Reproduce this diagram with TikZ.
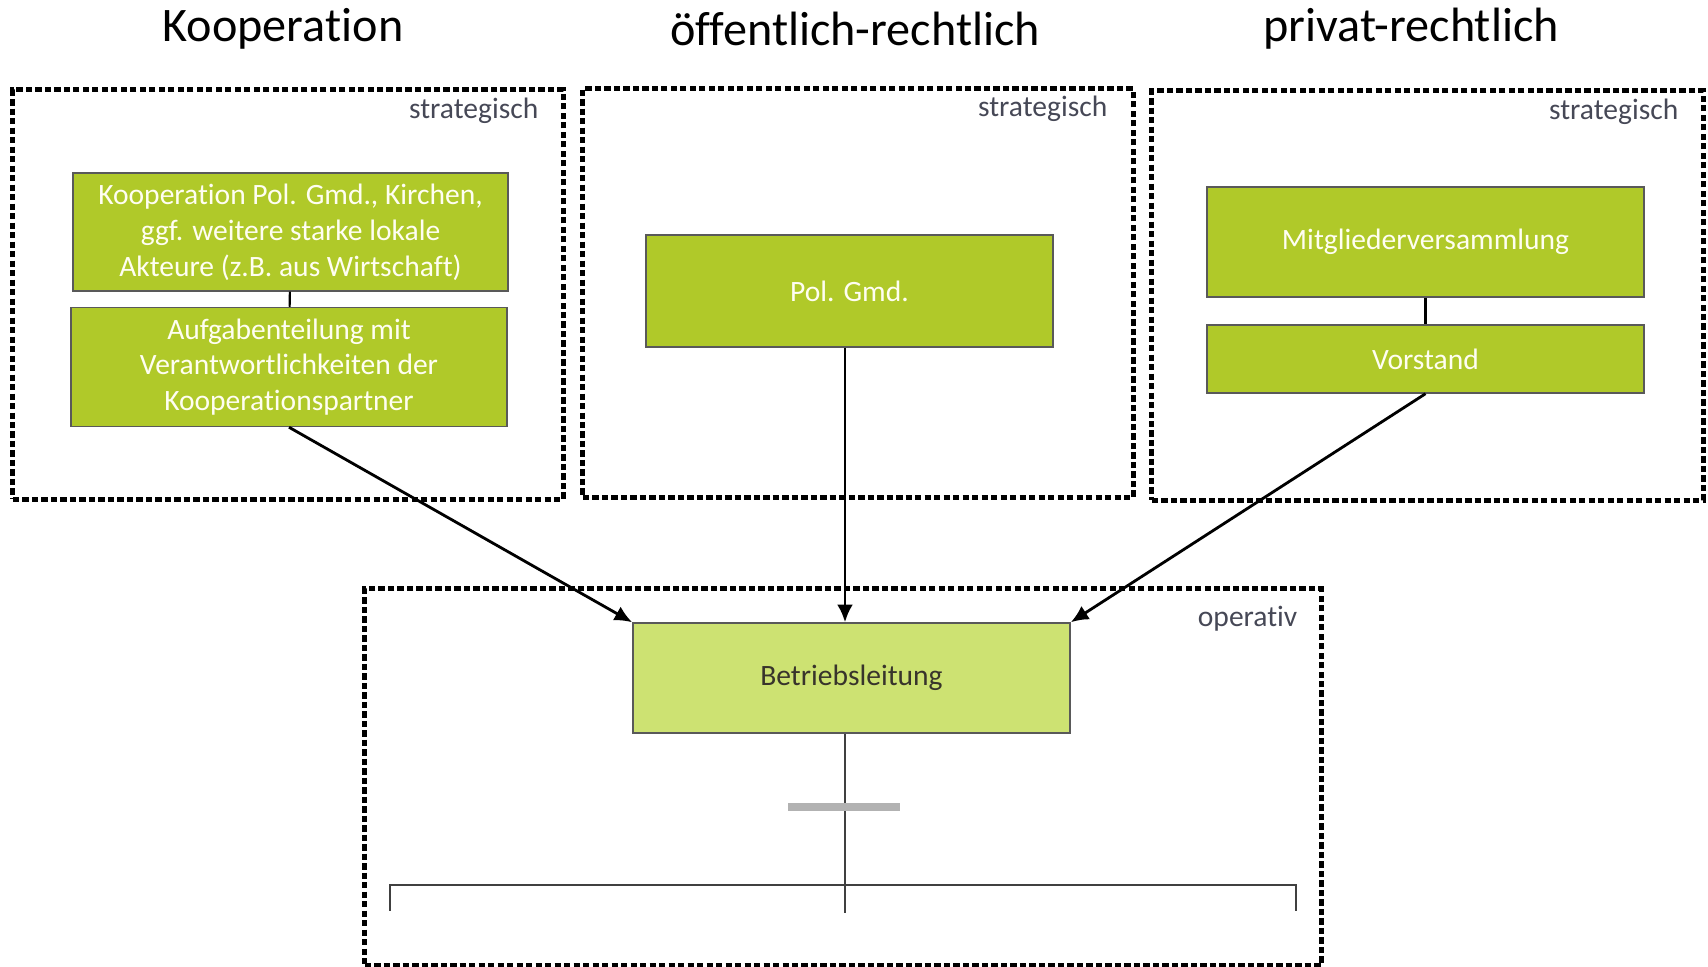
\documentclass[tikz,border=0pt]{standalone}
\usepackage{fontspec}
\setmainfont{Carlito}[Ligatures=NoCommon]
\usetikzlibrary{arrows.meta}
\definecolor{leaf}{RGB}{176,201,41}
\definecolor{lightleaf}{RGB}{205,226,114}
\definecolor{slate}{RGB}{70,72,86}
\begin{document}
\begin{tikzpicture}[x=0.01cm, y=-0.01cm,
  frame/.style={draw, line width=1.4pt, dash pattern=on 1.8pt off 0.9pt, inner sep=0pt},
  org/.style={draw=black!65, fill=leaf, text=white!95!yellow, inner sep=0pt, align=center,
    font=\fontsize{8.4}{10.2}\selectfont},
  lvl/.style={text=slate, anchor=east, inner sep=0pt, font=\fontsize{8.4}{10}\selectfont},
  head/.style={inner sep=0pt, font=\fontsize{13.7}{16}\selectfont},
  link/.style={-{Latex[length=5pt,width=4.5pt]}, line width=0.8pt}]
\useasboundingbox (0,0) rectangle (1708,967);
% column headings
\node[head] (h1) at (283,29) {Kooperation};
\node[head] (h2) at (855,29) {öffentlich-rechtlich};
\node[head] (h3) at (1411,29) {privat-rechtlich};
% strategic and operative frames
\node[frame, minimum width=5.5cm, minimum height=4.09cm] (f1) at (288,294.5) {};
\node[frame, minimum width=5.5cm, minimum height=4.08cm] (f2) at (858,293) {};
\node[frame, minimum width=5.51cm, minimum height=4.09cm] (f3) at (1427.5,295.5) {};
\node[frame, minimum width=9.56cm, minimum height=3.76cm] (f4) at (843,777) {};
\node[lvl] (l1) at (539,111) {strategisch};
\node[lvl] (l2) at (1108,109) {strategisch};
\node[lvl] (l3) at (1679,112) {strategisch};
\node[lvl] (l4) at (1298,619) {operativ};
% organs
\node[org, minimum width=4.35cm, minimum height=1.18cm] (koop) at (290.5,232)
  {Kooperation Pol. Gmd., Kirchen,\\ggf. weitere starke lokale\\Akteure (z.B. aus Wirtschaft)};
\node[org, minimum width=4.36cm, minimum height=1.19cm] (aufg) at (289,367)
  {Aufgabenteilung mit\\Verantwortlichkeiten der\\Kooperationspartner};
\node[org, minimum width=4.07cm, minimum height=1.12cm] (pol) at (849.5,291) {Pol. Gmd.};
\node[org, minimum width=4.37cm, minimum height=1.1cm] (mv) at (1425.5,242) {Mitgliederversammlung};
\node[org, minimum width=4.37cm, minimum height=0.68cm] (vs) at (1425.5,359) {Vorstand};
\node[org, fill=lightleaf, text=black!80!olive, minimum width=4.37cm, minimum height=1.1cm] (bl)
  at (851.5,678) {Betriebsleitung};
\draw[line width=0.6pt] (koop) -- (aufg);
\draw[line width=0.6pt] (mv) -- (vs);
% operative units below
\coordinate (stem) at (845,913);
\draw[link] (aufg.south) to (bl.north west);
\draw[link] (pol.south -| stem) to (bl.north -| stem);
\draw[link] (vs.south) to (bl.north east);
\draw[line width=0.6pt, black!75] (bl.south -| stem) -- (stem);
\draw[line width=2pt, black!30] (788,807) -- (900,807);
\draw[line width=0.6pt, black!75] (390,911) -- (390,885) -- (1296,885) -- (1296,911);
\end{tikzpicture}
\end{document}
